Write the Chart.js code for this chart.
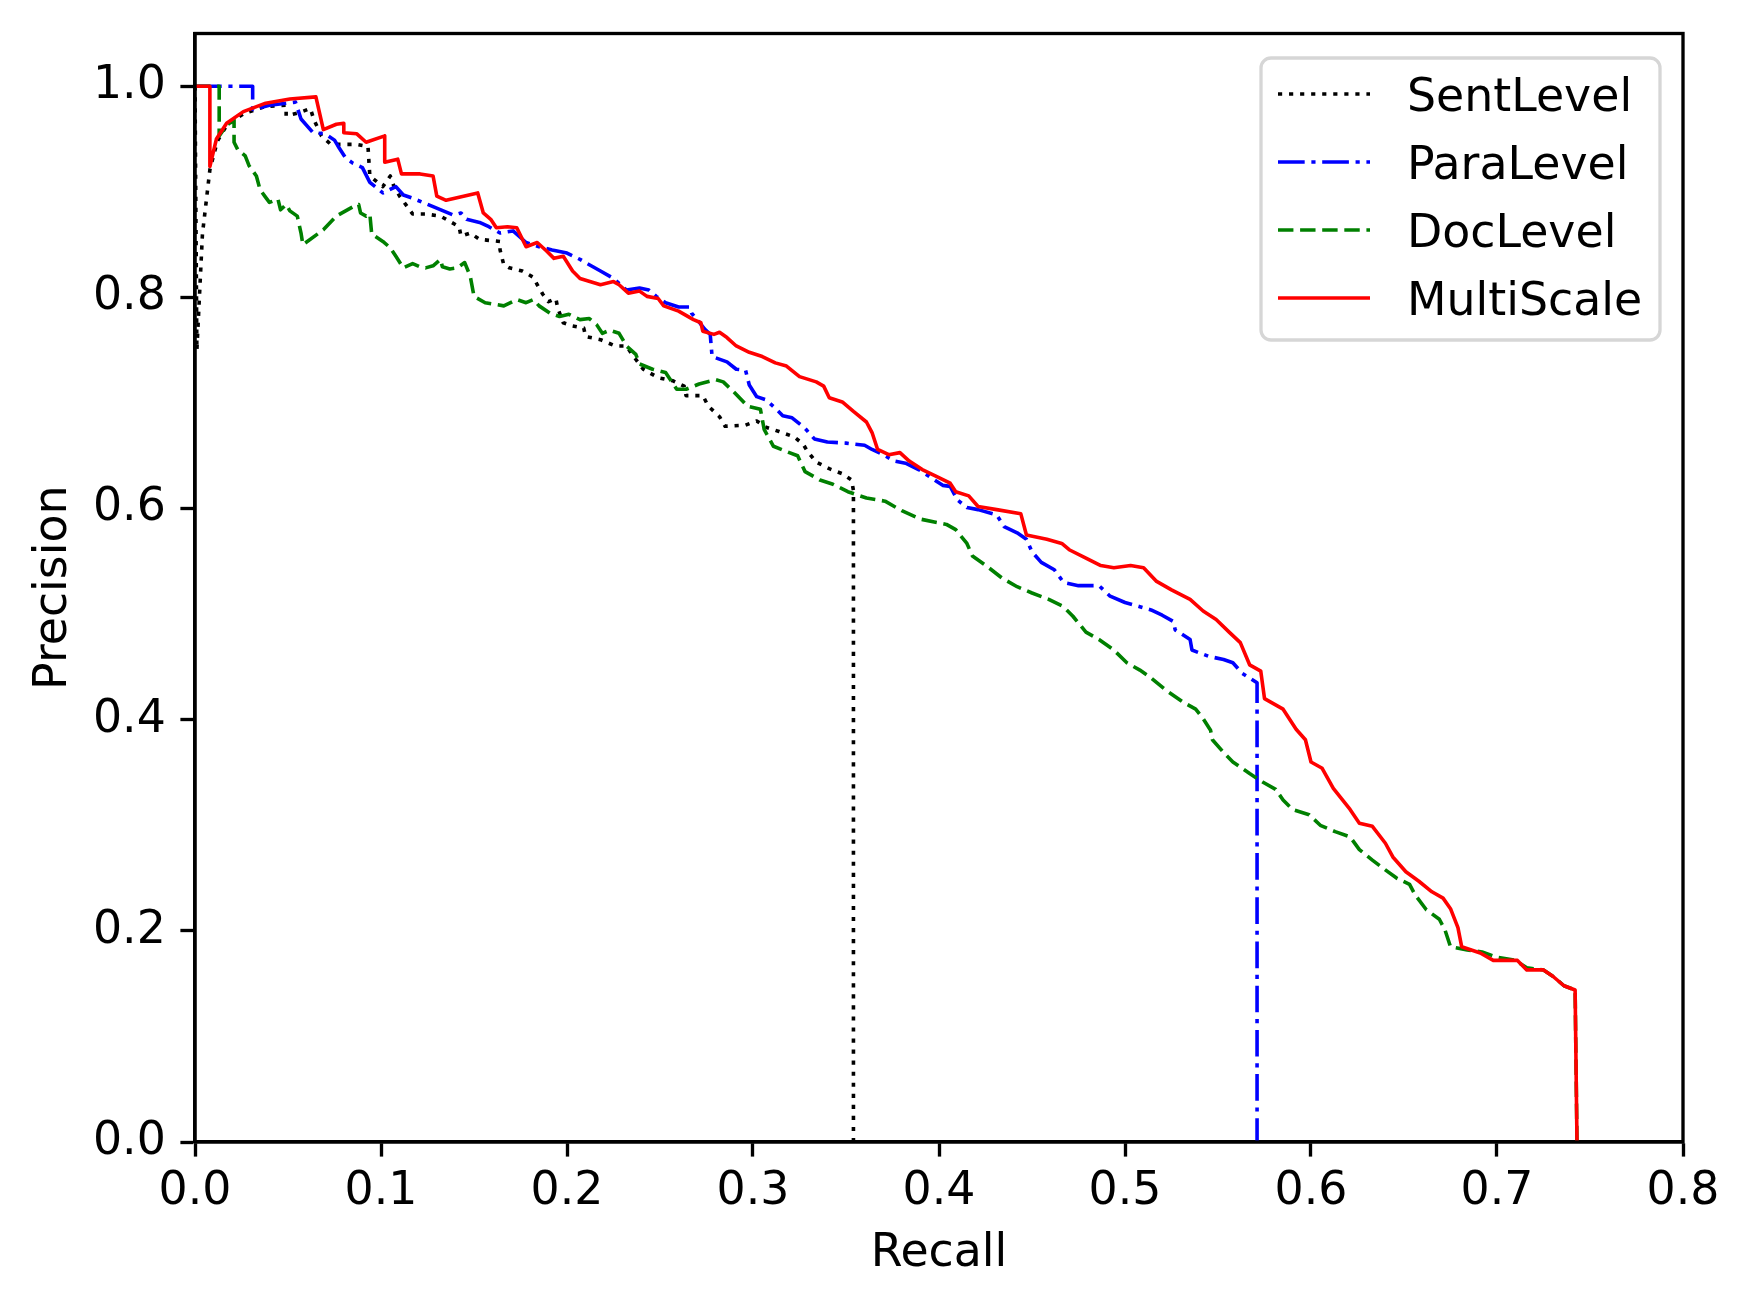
<!DOCTYPE html>
<html>
<head>
<meta charset="utf-8">
<script src="https://cdn.jsdelivr.net/npm/chart.js@4.4.0/dist/chart.umd.min.js"></script>
<style>
  html, body { margin: 0; padding: 0; background: #fff; }
  canvas { display: block; }
</style>
</head>
<body>
<canvas id="chartPR" width="1748" height="1308" style="width:1748px;height:1308px"></canvas>
<script>
// tick labels
const xTicks = [0, 0.1, 0.2, 0.3, 0.4, 0.5, 0.6, 0.7, 0.8];
const yTicks = [0, 0.2, 0.4, 0.6, 0.8, 1.0];

// [recall, precision]
const sentLevel = [
  [0,1.0],[0.001,0.75],[0.004,0.86],[0.008,0.921],[0.012,0.948],[0.017,0.963],[0.026,0.974],
  [0.038,0.981],[0.049,0.982],[0.049,0.972],[0.056,0.975],[0.062,0.979],[0.064,0.968],[0.068,0.953],
  [0.073,0.945],[0.087,0.945],[0.093,0.943],[0.094,0.915],[0.101,0.905],[0.105,0.915],[0.107,0.905],
  [0.110,0.896],[0.117,0.879],[0.124,0.879],[0.132,0.877],[0.137,0.872],[0.142,0.867],[0.143,0.858],
  [0.148,0.861],[0.153,0.855],[0.164,0.853],[0.164,0.845],[0.166,0.831],[0.169,0.828],[0.176,0.825],
  [0.182,0.819],[0.184,0.812],[0.187,0.803],[0.190,0.796],[0.194,0.799],[0.195,0.790],[0.198,0.776],
  [0.203,0.773],[0.209,0.771],[0.210,0.763],[0.218,0.760],[0.226,0.754],[0.232,0.754],[0.235,0.746],
  [0.241,0.732],[0.249,0.724],[0.257,0.721],[0.263,0.716],[0.264,0.707],[0.273,0.707],[0.276,0.697],
  [0.282,0.687],[0.285,0.678],[0.296,0.679],[0.302,0.683],[0.307,0.677],[0.314,0.673],[0.322,0.668],
  [0.327,0.661],[0.329,0.655],[0.334,0.644],[0.342,0.637],[0.348,0.633],[0.353,0.627],[0.354,0.617],
  [0.354,0]
];

const paraLevel = [
  [0,1.0],[0.031,1.0],[0.031,0.978],[0.040,0.982],[0.054,0.985],[0.057,0.969],[0.0635,0.956],
  [0.070,0.955],[0.075,0.949],[0.077,0.943],[0.081,0.932],[0.085,0.927],[0.090,0.923],[0.094,0.909],
  [0.101,0.899],[0.108,0.905],[0.112,0.897],[0.117,0.894],[0.128,0.886],[0.139,0.878],[0.143,0.880],
  [0.146,0.874],[0.153,0.871],[0.158,0.867],[0.164,0.861],[0.171,0.863],[0.178,0.852],[0.185,0.848],
  [0.192,0.845],[0.200,0.842],[0.207,0.836],[0.212,0.831],[0.218,0.825],[0.225,0.818],[0.232,0.807],
  [0.239,0.809],[0.244,0.807],[0.248,0.801],[0.253,0.795],[0.260,0.791],[0.266,0.791],[0.267,0.785],
  [0.270,0.779],[0.274,0.770],[0.277,0.765],[0.278,0.744],[0.286,0.739],[0.291,0.732],[0.296,0.731],
  [0.298,0.717],[0.302,0.706],[0.307,0.703],[0.312,0.695],[0.316,0.688],[0.321,0.686],[0.328,0.676],
  [0.333,0.666],[0.340,0.663],[0.350,0.662],[0.360,0.660],[0.364,0.656],[0.370,0.651],[0.376,0.645],
  [0.382,0.643],[0.389,0.637],[0.396,0.629],[0.402,0.622],[0.406,0.621],[0.410,0.608],[0.415,0.601],
  [0.421,0.599],[0.431,0.594],[0.435,0.583],[0.442,0.577],[0.447,0.571],[0.450,0.559],[0.455,0.549],
  [0.462,0.542],[0.467,0.530],[0.475,0.527],[0.486,0.527],[0.492,0.517],[0.500,0.511],[0.508,0.507],
  [0.514,0.504],[0.520,0.499],[0.526,0.493],[0.527,0.485],[0.535,0.476],[0.536,0.466],[0.545,0.460],
  [0.553,0.457],[0.558,0.454],[0.563,0.444],[0.571,0.435],[0.571,0]
];

const docLevel = [
  [0,1.0],[0.013,1.0],[0.013,0.953],[0.017,0.963],[0.021,0.968],[0.021,0.947],[0.023,0.940],
  [0.027,0.934],[0.029,0.925],[0.033,0.915],[0.035,0.902],[0.0375,0.896],[0.040,0.890],[0.0446,0.893],
  [0.046,0.883],[0.049,0.888],[0.051,0.882],[0.055,0.877],[0.057,0.861],[0.058,0.850],[0.069,0.864],
  [0.076,0.877],[0.085,0.886],[0.088,0.888],[0.089,0.880],[0.092,0.877],[0.094,0.879],[0.095,0.860],
  [0.101,0.853],[0.105,0.847],[0.108,0.839],[0.112,0.828],[0.117,0.832],[0.121,0.829],[0.124,0.828],
  [0.128,0.830],[0.132,0.836],[0.133,0.829],[0.137,0.827],[0.141,0.828],[0.145,0.833],[0.148,0.820],
  [0.150,0.801],[0.156,0.795],[0.166,0.792],[0.173,0.798],[0.178,0.795],[0.182,0.798],[0.185,0.792],
  [0.191,0.785],[0.196,0.782],[0.201,0.784],[0.207,0.779],[0.212,0.780],[0.216,0.774],[0.219,0.766],
  [0.223,0.769],[0.228,0.766],[0.232,0.754],[0.237,0.746],[0.239,0.737],[0.246,0.732],[0.253,0.729],
  [0.259,0.713],[0.264,0.713],[0.271,0.718],[0.280,0.722],[0.284,0.720],[0.290,0.710],[0.297,0.697],
  [0.304,0.694],[0.306,0.675],[0.311,0.659],[0.318,0.654],[0.324,0.650],[0.328,0.635],[0.336,0.627],
  [0.343,0.623],[0.351,0.616],[0.361,0.610],[0.371,0.607],[0.380,0.598],[0.390,0.590],[0.404,0.585],
  [0.409,0.580],[0.415,0.567],[0.418,0.555],[0.426,0.545],[0.434,0.534],[0.442,0.526],[0.450,0.520],
  [0.459,0.514],[0.467,0.507],[0.472,0.498],[0.479,0.483],[0.486,0.476],[0.494,0.466],[0.501,0.454],
  [0.508,0.447],[0.513,0.441],[0.522,0.428],[0.531,0.417],[0.538,0.410],[0.542,0.401],[0.546,0.390],
  [0.547,0.381],[0.553,0.369],[0.558,0.360],[0.567,0.349],[0.574,0.341],[0.581,0.334],[0.585,0.324],
  [0.590,0.315],[0.599,0.310],[0.605,0.300],[0.613,0.294],[0.621,0.289],[0.626,0.277],[0.633,0.267],
  [0.639,0.259],[0.646,0.250],[0.653,0.244],[0.656,0.234],[0.662,0.220],[0.669,0.211],[0.672,0.201],
  [0.675,0.185],[0.684,0.182],[0.692,0.180],[0.700,0.175],[0.710,0.172],[0.716,0.165],[0.725,0.163],
  [0.730,0.157],[0.736,0.148],[0.742,0.144],[0.743,0]
];

const multiScale = [
  [0,1.0],[0.008,1.0],[0.008,0.924],[0.0115,0.950],[0.017,0.965],[0.026,0.976],[0.038,0.984],
  [0.051,0.988],[0.065,0.990],[0.069,0.959],[0.076,0.964],[0.080,0.965],[0.080,0.956],[0.087,0.955],
  [0.092,0.947],[0.102,0.953],[0.102,0.928],[0.109,0.931],[0.111,0.917],[0.121,0.917],[0.128,0.915],
  [0.130,0.896],[0.135,0.892],[0.152,0.899],[0.155,0.880],[0.159,0.874],[0.162,0.866],[0.168,0.867],
  [0.173,0.866],[0.178,0.848],[0.184,0.852],[0.189,0.844],[0.193,0.837],[0.198,0.839],[0.203,0.825],
  [0.207,0.818],[0.218,0.812],[0.225,0.815],[0.228,0.812],[0.233,0.804],[0.239,0.806],[0.243,0.801],
  [0.249,0.799],[0.252,0.792],[0.260,0.787],[0.268,0.779],[0.272,0.776],[0.273,0.768],[0.279,0.765],
  [0.282,0.767],[0.286,0.762],[0.291,0.754],[0.298,0.748],[0.305,0.744],[0.312,0.738],[0.318,0.735],
  [0.325,0.725],[0.334,0.720],[0.338,0.716],[0.341,0.705],[0.348,0.701],[0.354,0.692],[0.361,0.682],
  [0.364,0.672],[0.367,0.656],[0.373,0.651],[0.379,0.653],[0.384,0.645],[0.391,0.637],[0.398,0.631],
  [0.406,0.624],[0.409,0.616],[0.416,0.612],[0.421,0.602],[0.431,0.599],[0.444,0.595],[0.447,0.575],
  [0.458,0.571],[0.466,0.567],[0.470,0.561],[0.479,0.553],[0.487,0.546],[0.494,0.544],[0.503,0.546],
  [0.510,0.544],[0.517,0.531],[0.525,0.523],[0.535,0.514],[0.542,0.503],[0.549,0.495],[0.556,0.483],
  [0.562,0.473],[0.567,0.452],[0.573,0.446],[0.575,0.420],[0.585,0.410],[0.592,0.391],[0.597,0.381],
  [0.600,0.360],[0.606,0.354],[0.612,0.335],[0.621,0.315],[0.626,0.302],[0.633,0.299],[0.640,0.283],
  [0.644,0.270],[0.651,0.256],[0.658,0.247],[0.665,0.237],[0.671,0.231],[0.675,0.221],[0.679,0.203],
  [0.681,0.185],[0.691,0.179],[0.698,0.172],[0.711,0.172],[0.716,0.163],[0.725,0.163],[0.730,0.157],
  [0.736,0.148],[0.742,0.144],[0.743,0]
];

const LW = 4.17; // dash unit, 1pt at 300 dpi
const FONT_PX = 45.8;

Chart.defaults.font.family = "'DejaVu Sans'";
Chart.defaults.font.size = FONT_PX;
Chart.defaults.color = "#000";

function toPoints(arr) {
  return arr.map(p => ({ x: p[0], y: p[1] }));
}

function serie(label, arr, color, dash, order) {
  return {
    label: label,
    data: toPoints(arr),
    showLine: true,
    borderColor: color,
    backgroundColor: color,
    borderWidth: 3.6,
    borderDash: dash,
    borderCapStyle: "butt",
    borderJoinStyle: "round",
    pointRadius: 0,
    tension: 0,
    order: order
  };
}

// full box around the plot, drawn above the curves
const framePlugin = {
  id: "frame",
  afterDatasetsDraw(chart) {
    const { ctx, chartArea: a } = chart;
    ctx.save();
    ctx.strokeStyle = "#000";
    ctx.lineWidth = 3.33;
    ctx.strokeRect(a.left, a.top, a.right - a.left, a.bottom - a.top);
    ctx.restore();
  }
};

// legend box in the upper right corner
const legendPlugin = {
  id: "boxLegend",
  afterDraw(chart) {
    const { ctx, chartArea: a } = chart;
    const w = 399, h = 282;
    const left = a.right - 23 - w;
    const top = a.top + 24.5;
    ctx.save();
    ctx.beginPath();
    ctx.roundRect(left, top, w, h, 10);
    ctx.fillStyle = "rgba(255,255,255,0.8)";
    ctx.fill();
    ctx.lineWidth = 3.3;
    ctx.strokeStyle = "#d6d6d6";
    ctx.stroke();

    chart.data.datasets.forEach((ds, i) => {
      const y = top + 36 + i * 68;
      ctx.beginPath();
      ctx.setLineDash(ds.borderDash || []);
      ctx.lineCap = "butt";
      ctx.strokeStyle = ds.borderColor;
      ctx.lineWidth = ds.borderWidth;
      ctx.moveTo(left + 17, y);
      ctx.lineTo(left + 109, y);
      ctx.stroke();
      ctx.setLineDash([]);
      ctx.fillStyle = "#000";
      ctx.font = FONT_PX + "px 'DejaVu Sans'";
      ctx.textBaseline = "alphabetic";
      ctx.textAlign = "left";
      ctx.fillText(ds.label, left + 146, y + 16.5);
    });
    ctx.restore();
  }
};

const ctx = document.getElementById("chartPR");

new Chart(ctx, {
  type: "scatter",
  data: {
    datasets: [
      serie("SentLevel", sentLevel, "#000000", [1 * LW, 1.65 * LW], 4),
      serie("ParaLevel", paraLevel, "#0000ff", [6.4 * LW, 1.6 * LW, 1 * LW, 1.6 * LW], 3),
      serie("DocLevel", docLevel, "#008000", [3.7 * LW, 1.6 * LW], 2),
      serie("MultiScale", multiScale, "#ff0000", [], 1)
    ]
  },
  options: {
    responsive: false,
    devicePixelRatio: 1,
    animation: false,
    events: [],
    layout: { padding: { top: 33.5, right: 65, left: 0, bottom: 0 } },
    plugins: {
      legend: { display: false },
      tooltip: { enabled: false }
    },
    scales: {
      x: {
        type: "linear",
        min: 0,
        max: 0.8,
        afterBuildTicks: scale => { scale.ticks = xTicks.map(v => ({ value: v })); },
        afterFit: scale => {
          scale.height = 166;
          scale.paddingLeft = 0;
          scale.paddingRight = 0;
        },
        ticks: {
          padding: 8,
          maxRotation: 0,
          autoSkip: false,
          callback: v => Number(v).toFixed(1)
        },
        grid: {
          drawOnChartArea: false,
          drawTicks: true,
          tickLength: 14.6,
          tickWidth: 3.33,
          tickColor: "#000"
        },
        border: { display: true, color: "#000", width: 3.33 },
        title: {
          display: true,
          text: "Recall",
          padding: { top: 0, bottom: 26 }
        }
      },
      y: {
        type: "linear",
        min: 0,
        max: 1.05,
        afterBuildTicks: scale => { scale.ticks = yTicks.map(v => ({ value: v })); },
        afterFit: scale => {
          scale.width = 195;
          scale.paddingTop = 0;
          scale.paddingBottom = 0;
        },
        ticks: {
          padding: 14.6,
          autoSkip: false,
          callback: v => Number(v).toFixed(1)
        },
        grid: {
          drawOnChartArea: false,
          drawTicks: true,
          tickLength: 14.6,
          tickWidth: 3.33,
          tickColor: "#000"
        },
        border: { display: true, color: "#000", width: 3.33 },
        title: {
          display: true,
          text: "Precision",
          padding: { top: 27, bottom: 0 }
        }
      }
    }
  },
  plugins: [framePlugin, legendPlugin]
});
</script>
</body>
</html>
